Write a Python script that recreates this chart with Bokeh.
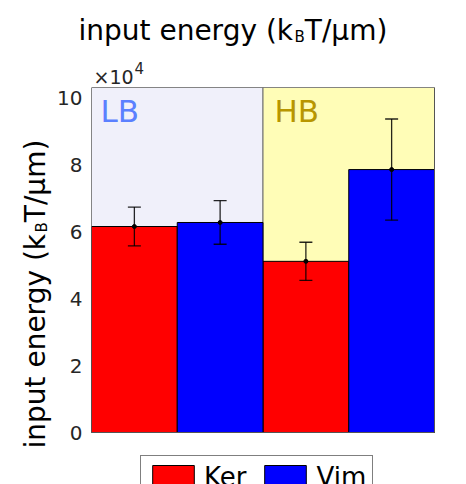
import math
from bokeh.plotting import figure
from bokeh.layouts import column, row
from bokeh.models import (Range1d, FixedTicker, Label, Legend, LegendItem,
                          Whisker, ColumnDataSource, TeeHead)
from bokeh.core.properties import value
from bokeh.embed import file_html
from bokeh.resources import INLINE

# ---------------- data ----------------
groups = ["LB", "HB"]
series = ["Ker", "Vim"]
ker_mean = [61500, 51100]
ker_err = [5800, 5700]
vim_mean = [62700, 78500]
vim_err = [6500, 15100]
y_ticks = [0, 20000, 40000, 60000, 80000, 100000]
y_tick_labels = ["0", "2", "4", "6", "8", "10"]
y_max = 103000
title_main = "input energy (k"
title_sub = "B"
title_tail = "T/μm)"

# approximate DejaVu Sans advance widths (units per em = 2048)
ADV = {"i": 569, "n": 1298, "p": 1300, "u": 1298, "t": 803, " ": 651, "e": 1260,
       "r": 842, "g": 1300, "y": 1212, "(": 799, "k": 1186, "B": 1405, "T": 1251,
       "/": 690, "μ": 1300, "m": 1995, ")": 799, "×": 1716, "1": 1303, "0": 1303}


def tw(s, size):
    return sum(ADV.get(c, 1250) for c in s) / 2048.0 * size


FONT = "DejaVu Sans"
W, H = 466, 484
TOP_H = 87          # height of title strip
LEFT_W = 52         # width of y-label strip
FRAME_L, FRAME_R, FRAME_B = 91, 434, 432   # plot box in page pixels
TS, SS = 28, 15
SHIFT = 7           # baseline correction for text glyphs


def blank(width, height):
    f = figure(width=width, height=height, x_range=Range1d(0, width), y_range=Range1d(0, height),
               x_axis_type=None, y_axis_type=None, output_backend="svg", toolbar_location=None,
               min_border=0)
    f.outline_line_color = None
    f.xgrid.visible = False
    f.ygrid.visible = False
    return f


# ---------- title strip ----------
top = blank(W, TOP_H)
w_main = tw(title_main, TS)
w_sub = tw(title_sub, SS)
tx, tb = 78, TOP_H - 37 + SHIFT
top.text(x=[tx, tx + w_main + 1, tx + w_main + w_sub + 1], y=[tb, tb - 6, tb],
         text=[title_main, title_sub, title_tail],
         text_font=value(FONT), text_font_size=[f"{TS}px", f"{SS}px", f"{TS}px"],
         text_color="black", text_baseline="alphabetic", text_align="left")
EX = 19
top.text(x=[93, 93 + tw("×10", EX) + 1], y=[TOP_H - 83 + SHIFT, TOP_H - 74 + SHIFT],
         text=["×10", "4"],
         text_font=value(FONT), text_font_size=[f"{EX}px", "15px"], text_color="#262626",
         text_baseline="alphabetic", text_align="left")

# ---------- y-label strip ----------
left = blank(LEFT_W, H - TOP_H)
ly0 = H - 448
lx = 42 - SHIFT
left.text(x=[lx, lx + 6, lx], y=[ly0, ly0 + w_main + 1, ly0 + w_main + w_sub + 1],
          text=[title_main, title_sub, title_tail],
          text_font=value(FONT), text_font_size=[f"{TS}px", f"{SS}px", f"{TS}px"],
          text_color="black", text_baseline="alphabetic", text_align="left",
          angle=math.pi / 2)

# ---------- main plot ----------
main_w = W - LEFT_W
frame_w = W - FRAME_L
frame_h = H - TOP_H
box_h = FRAME_B - TOP_H
x_end = 4 * frame_w / (FRAME_R - FRAME_L)
y_start = -y_max * (H - FRAME_B) / box_h

p = figure(width=main_w, height=frame_h, x_range=Range1d(0, x_end),
           y_range=Range1d(y_start, y_max), output_backend="svg", toolbar_location=None,
           min_border_left=FRAME_L - LEFT_W, min_border_right=0, min_border_top=0,
           min_border_bottom=0)
p.xaxis.visible = False
p.xgrid.visible = False
p.ygrid.visible = False
p.outline_line_color = None

ya = p.yaxis[0]
ya.ticker = FixedTicker(ticks=y_ticks)
ya.major_label_overrides = {t: l for t, l in zip(y_ticks, y_tick_labels)}
ya.major_label_text_font = FONT
ya.major_label_text_font_size = "20px"
ya.major_label_text_color = "#262626"
ya.major_label_standoff = 9
ya.major_tick_in = 0
ya.major_tick_out = 0
ya.minor_tick_in = 0
ya.minor_tick_out = 0
ya.axis_line_color = None

n = len(groups)
bg = ColumnDataSource(dict(left=[2 * i for i in range(n)], right=[2 * i + 2 for i in range(n)],
                           bottom=[0] * n, top=[y_max] * n,
                           color=["#F0F0FA", "#FFFDB7"]))
p.quad(left="left", right="right", bottom="bottom", top="top", fill_color="color",
       line_color="#6e6e6e", line_width=1, source=bg)

ker_x = [2 * i + 0.5 for i in range(n)]
vim_x = [2 * i + 1.5 for i in range(n)]
r_ker = p.vbar(x=ker_x, top=ker_mean, bottom=0, width=1, fill_color="#FF0000",
               line_color="black", line_width=1)
r_vim = p.vbar(x=vim_x, top=vim_mean, bottom=0, width=1, fill_color="#0000FF",
               line_color="black", line_width=1)

# axes box
p.quad(left=[0], right=[2 * n], bottom=[0], top=[y_max], fill_color=None,
       line_color="#555555", line_width=1)

xs = ker_x + vim_x
means = ker_mean + vim_mean
errs = ker_err + vim_err
es = ColumnDataSource(dict(x=xs, m=means, up=[m + e for m, e in zip(means, errs)],
                           lo=[m - e for m, e in zip(means, errs)]))
p.scatter(x="x", y="m", source=es, size=4, color="black")
w = Whisker(source=es, base="x", upper="up", lower="lo", line_color="black",
            line_width=1.3, line_alpha=0.85, level="annotation",
            upper_head=TeeHead(size=13, line_color="black", line_width=1.3, line_alpha=0.85),
            lower_head=TeeHead(size=13, line_color="black", line_width=1.3, line_alpha=0.85))
p.add_layout(w)

# group labels
for txt, sx, col in [(groups[0], 9, "#5B80FF"), (groups[1], 183, "#B89600")]:
    p.add_layout(Label(x=sx, y=H - 122 + 12, x_units="screen", y_units="screen", text=txt,
                       text_font=FONT, text_font_size="31px", text_color=col,
                       text_baseline="alphabetic", text_align="left"))

PAD = 6
legend = Legend(items=[LegendItem(label=series[0], renderers=[r_ker]),
                       LegendItem(label=series[1], renderers=[r_vim])],
                location=(140 - FRAME_L, (H - 455) - (50 - 2 * (9 - PAD))),
                orientation="horizontal",
                label_text_font=FONT, label_text_font_size="26px", label_text_color="black",
                glyph_width=52, glyph_height=30, label_standoff=5, spacing=13, padding=PAD,
                border_line_color="black", border_line_width=1, background_fill_alpha=1)
p.add_layout(legend)

layout = column(top, row(left, p, spacing=0), spacing=0)
open("out.html", "w").write(file_html(layout, INLINE))
